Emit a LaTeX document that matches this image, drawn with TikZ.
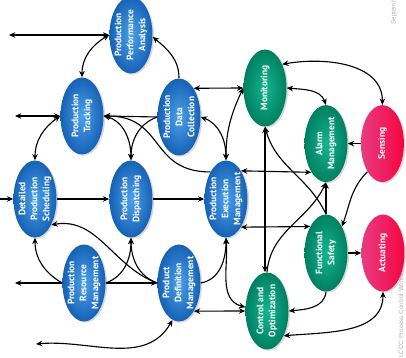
\documentclass[tikz,border=0pt]{standalone}
\usepackage{fontspec}
\newfontfamily\ellfont{PT Sans}
\newfontfamily\footfont{Liberation Sans}
\usetikzlibrary{arrows.meta, shapes.geometric, shadows}

\definecolor{blueIn}{RGB}{75,160,232}
\definecolor{blueOut}{RGB}{22,98,182}
\definecolor{greenIn}{RGB}{20,180,145}
\definecolor{greenOut}{RGB}{0,128,96}
\definecolor{redIn}{RGB}{232,60,130}
\definecolor{redOut}{RGB}{245,5,65}
\definecolor{footgray}{RGB}{175,175,175}

\begin{document}
\begin{tikzpicture}[
    >={Stealth[length=4.5pt, width=4pt]}, % arrow tips
    link/.style={line width=0.8pt},
    func/.style={ellipse, minimum width=1.075cm, minimum height=1.925cm, inner sep=0pt,
        drop shadow={opacity=0.3, shadow xshift=0.4mm, shadow yshift=-0.3mm}},
    opblue/.style={func, shade, inner color=blueIn, outer color=blueOut},
    opgreen/.style={func, shade, inner color=greenIn, outer color=greenOut},
    opred/.style={func, shade, left color=redIn, right color=redOut},
    txt/.style={rotate=90, align=center, text=white, inner sep=0pt,
        font=\ellfont\bfseries\fontsize{6.7}{8.6}\selectfont},
    foot/.style={rotate=90, inner sep=0pt, text=footgray, font=\footfont\fontsize{4.5}{5}\selectfont}
]
\useasboundingbox (0,0) rectangle (10.15,8.95);

% Slide footer, partly hidden
\node[foot, anchor=base west] (date) at (9.89, 8.325) {September};
\node[foot, anchor=base west] (venue) at (10.075, 0) {LCCC Process Control Workshop};

% Operations management functions
\node[opblue, label={[txt]center:Production\\Performance\\Analysis}] (ppa) at (3.275, 8.075) {};
\node[opblue, label={[txt]center:Production\\Tracking}] (track) at (2.05, 6.05) {};
\node[opblue, label={[txt]center:Production\\Data\\Collection}] (dc) at (4.475, 6.025) {};
\node[opblue, label={[txt]center:Detailed\\Production\\Scheduling}] (sched) at (0.875, 3.975) {};
\node[opblue, label={[txt]center:Production\\Dispatching}] (disp) at (3.275, 3.975) {};
\node[opblue, label={[txt]center:Production\\Execution\\Management}] (pem) at (5.65, 3.975) {};
\node[opblue, label={[txt]center:Production\\Resource\\Management}] (prm) at (2.1, 1.875) {};
\node[opblue, label={[txt]center:Product\\Definition\\Management}] (pdm) at (4.475, 1.875) {};

% Control functions
\node[opgreen, label={[txt]center:Monitoring}] (mon) at (6.625, 6.75) {};
\node[opgreen, label={[txt]center:Alarm\\Management}] (alarm) at (8.15, 5.36) {};
\node[opgreen, label={[txt]center:Functional\\Safety}] (fs) at (8.15, 2.625) {};
\node[opgreen, label={[txt]center:Control and\\Optimization}] (co) at (6.675, 1.175) {};

% Field
\node[opred, label={[txt]center:Sensing}] (sens) at (9.56, 5.36) {};
\node[opred, label={[txt]center:Actuating}] (act) at (9.575, 2.625) {};

% Free ends on the left
\coordinate (ppaOut) at (0.225, 8.075);
\coordinate (trackOut) at (0.375, 6.05);
\coordinate (schedIn) at (0, 3.975);
\coordinate (prmOut) at (0.375, 1.875);
\coordinate (pdmOut) at (0.9, 0.35);

% Analysis and tracking
\draw[link, <->] (ppa.west) -- (ppaOut);
\draw[link, <->] (ppa.west) to[out=210, in=90] (track.north);
\draw[link, ->] (dc.north) to[out=90, in=-40] (ppa.-5);
\draw[link, <->] (track.west) -- (trackOut);
\draw[link, <->] (track.west) to[out=215, in=90] (sched.north);
\draw[link, ->] (dc.west) -- (track.east);
\draw[link, <->] (track.east) to[out=-15, in=90] (disp.north);
\draw[link, ->] (dc.west) to[out=200, in=90] (disp.north);
\draw[link, ->] (pem.120) to[out=180, in=0, looseness=1.3] (track.east);
\draw[link, <->] (dc.east) to[out=-20, in=90] (pem.north);
\draw[link, <->] (dc.63) -- (mon.west);
\draw[link, <->] (mon.west) to[out=245, in=90] (pem.north);

% Monitoring, alarms and safety
\draw[link, <->] (mon.54) to[out=10, in=90] (sens.north);
\draw[link, <->] (mon.east) to[out=-5, in=110] (alarm.north);
\draw[link, ->] (sens.west) -- (alarm.east);
\draw[link, <->] (mon.south) -- (mon.south |- co.north);
\draw[link, ->] (fs.north) to[out=115, in=-75] (mon.south);
\draw[link, ->] (fs.north) -- (alarm.south);
\draw[link, ->] (co.north) to[out=85, in=-115] (alarm.south);
\draw[link, <->] (pem.62) -- (alarm.243);
\draw[link, <->] (pem.-62) -- (fs.121);
\draw[link, ->] (sens.242) to[out=225, in=70] (fs.59);
\draw[link, ->] (fs.east) -- (act.west);
\draw[link, ->] (fs.south) to[out=-95, in=5] (co.east);
\draw[link, <->] (co.-56) to[out=5, in=-90] (act.south);

% Scheduling, dispatching and definitions
\draw[link, ->] (schedIn) -- (sched.west);
\draw[link, ->] (sched.east) -- (disp.west);
\draw[link, ->] (disp.east) -- (pem.west);
\draw[link, <->] (pem.south) to[out=-85, in=165] (co.170);
\draw[link, ->] (pdm.east) to[out=10, in=-90] (pem.south);
\draw[link, <->] (pdm.-62) -- (co.west);
\draw[link, ->] (prm.west) -- (prmOut);
\draw[link, ->] (prm.west) to[out=150, in=-90] (sched.south);
\draw[link, ->] (prm.east) -- (pdm.west);
\draw[link, ->] (prm.east) to[out=20, in=-90] (disp.south);
\draw[link, ->] (pdm.west) to[out=160, in=-90] (disp.south);
\draw[link, ->] (pdm.west) to[out=160, in=10] (sched.-58);
\draw[link, <->] (pdmOut) to[out=5, in=-120] (pdm.-100);

\end{tikzpicture}
\end{document}
